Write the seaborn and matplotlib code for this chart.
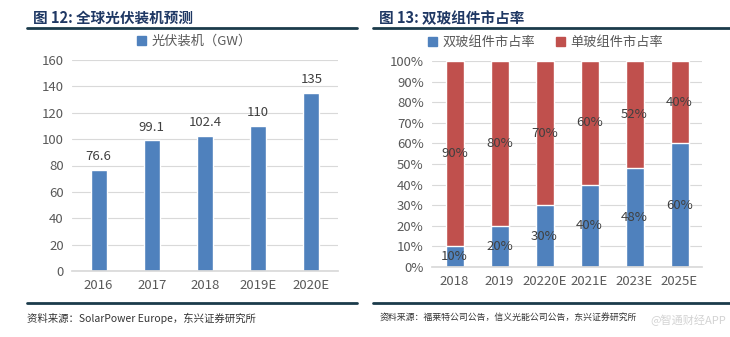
import matplotlib
matplotlib.use("Agg")
import matplotlib.pyplot as plt
import seaborn as sns
import pandas as pd
from matplotlib.lines import Line2D
from matplotlib.patches import Patch

sns.set_theme(style="white")
plt.rcParams['font.family'] = ['Noto Sans CJK SC', 'DejaVu Sans']

# ---- data ----
years_left = ["2016", "2017", "2018", "2019E", "2020E"]
install_gw = [76.6, 99.1, 102.4, 110, 135]
install_labels = ["76.6", "99.1", "102.4", "110", "135"]

years_right = ["2018", "2019", "20220E", "2021E", "2023E", "2025E"]
double_share = [10, 20, 30, 40, 48, 60]
single_share = [90, 80, 70, 60, 52, 40]

BLUE = "#4F81BD"
RED = "#C0504D"
TXT = "#595959"
TITLE = "#1F3864"
RULE = "#1B3B4B"

fig = plt.figure(figsize=(7.3, 3.37), dpi=100)

# ---- left chart ----
axL = fig.add_axes([72/730, 66/337, 266/730, 211/337])
dfL = pd.DataFrame({"year": years_left, "gw": install_gw})
sns.barplot(data=dfL, x="year", y="gw", color=BLUE, width=0.3, ax=axL, saturation=1)
axL.set_ylim(0, 160)
axL.set_yticks(range(0, 161, 20))
axL.yaxis.grid(True, color="#D9D9D9", linewidth=0.8)
axL.set_axisbelow(True)
for s in ["top", "right", "left"]:
    axL.spines[s].set_visible(False)
axL.spines["bottom"].set_color("#D9D9D9")
axL.set_xlabel("")
axL.set_ylabel("")
axL.tick_params(axis="both", length=0, labelsize=9.5, labelcolor=TXT, pad=6)
for p, lab in zip(axL.patches, install_labels):
    axL.text(p.get_x() + p.get_width()/2, p.get_height() + 5, lab,
             ha="center", va="bottom", fontsize=9.5, color="#404040")
axL.legend(handles=[Patch(color=BLUE, label="光伏装机（GW）")], loc="lower center",
           bbox_to_anchor=(0.46, 1.0), frameon=False, fontsize=9.5,
           handlelength=0.7, handleheight=0.7, handletextpad=0.4, labelcolor=TXT)

# ---- right chart ----
axR = fig.add_axes([432/730, 70/337, 270/730, 206/337])
dfR = pd.DataFrame({"year": years_right, "double": double_share, "single": single_share})
dfR["total"] = dfR["double"] + dfR["single"]
sns.barplot(data=dfR, x="year", y="total", color=RED, width=0.4, ax=axR, saturation=1)
sns.barplot(data=dfR, x="year", y="double", color=BLUE, width=0.4, ax=axR, saturation=1)
axR.set_ylim(0, 100)
axR.set_yticks(range(0, 101, 10))
axR.set_yticklabels([f"{v}%" for v in range(0, 101, 10)])
axR.yaxis.grid(True, color="#D9D9D9", linewidth=0.8)
axR.set_axisbelow(True)
for s in ["top", "right", "left"]:
    axR.spines[s].set_visible(False)
axR.spines["bottom"].set_color("#D9D9D9")
axR.set_xlabel("")
axR.set_ylabel("")
axR.tick_params(axis="both", length=0, labelsize=9.5, labelcolor=TXT, pad=6)
for i, (d, s) in enumerate(zip(double_share, single_share)):
    axR.text(i, d/2, f"{d}%", ha="center", va="center", fontsize=9.5, color="#404040")
    axR.text(i, d + s/2, f"{s}%", ha="center", va="center", fontsize=9.5, color="#404040")
axR.legend(handles=[Patch(color=BLUE, label="双玻组件市占率"), Patch(color=RED, label="单玻组件市占率")],
           loc="lower center", bbox_to_anchor=(0.42, 1.0), frameon=False, fontsize=9.5, ncol=2,
           handlelength=0.7, handleheight=0.7, handletextpad=0.4, columnspacing=1.6, labelcolor=TXT)

# ---- titles, rules, sources ----
fig.text(33/730, 1 - 18/337, "图 12: 全球光伏装机预测", fontsize=10.5, fontweight="bold",
         color=TITLE, va="center", ha="left")
fig.text(379/730, 1 - 18/337, "图 13: 双玻组件市占率", fontsize=10.5, fontweight="bold",
         color=TITLE, va="center", ha="left")
for x0, x1 in [(27, 357), (373, 730)]:
    for y in (28, 303):
        fig.add_artist(Line2D([x0/730, x1/730], [1 - y/337, 1 - y/337], color=RULE, linewidth=2))
fig.text(27/730, 1 - 318/337, "资料来源：SolarPower Europe，东兴证券研究所", fontsize=7.5,
         style="italic", color="#333333", va="center", ha="left")
fig.text(380/730, 1 - 318/337, "资料来源：福莱特公司公告，信义光能公司公告，东兴证券研究所", fontsize=6.4,
         style="italic", color="#333333", va="center", ha="left")
fig.text(726/730, 1 - 320/337, "@智通财经APP", fontsize=8, color="#C8C8C8", alpha=0.8,
         va="center", ha="right")

fig.savefig("out.png", dpi=100)
